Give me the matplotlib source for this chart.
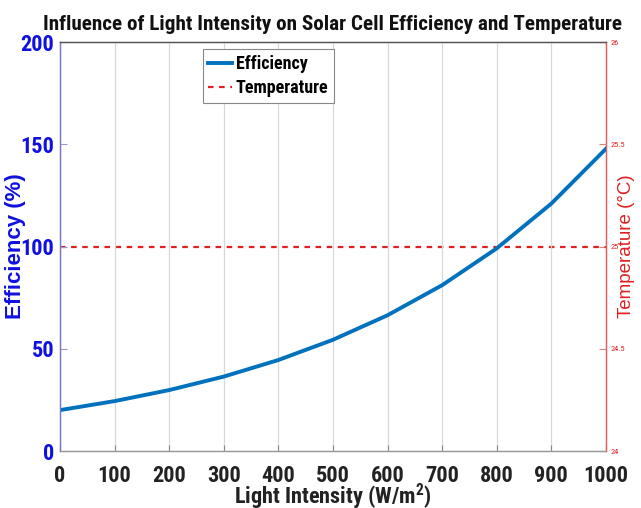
import matplotlib
matplotlib.use("Agg")
import matplotlib.pyplot as plt
import numpy as np

intensity = [0, 100, 200, 300, 400, 500, 600, 700, 800, 900, 1000]
efficiency = [20.0, 24.4, 29.8, 36.4, 44.5, 54.4, 66.4, 81.1, 99.1, 121.0, 147.8]
temperature = [25, 25, 25, 25, 25, 25, 25, 25, 25, 25, 25]
x_ticks = [0, 100, 200, 300, 400, 500, 600, 700, 800, 900, 1000]
left_ticks = [0, 50, 100, 150, 200]
right_ticks = [24, 24.5, 25, 25.5, 26]

narrow = ["Roboto Condensed", "DejaVu Sans"]
arial = ["Liberation Sans", "DejaVu Sans"]

plt.rcParams["mathtext.fontset"] = "custom"
plt.rcParams["mathtext.rm"] = "Roboto Condensed:bold"
plt.rcParams["mathtext.it"] = "Roboto Condensed:bold"
plt.rcParams["mathtext.bf"] = "Roboto Condensed:bold"

fig = plt.figure(figsize=(6.41, 5.08), dpi=100)
ax = fig.add_axes([0.0936, 0.1122, 0.8517, 0.805])
ax2 = ax.twinx()

blue_line = (0.0, 0.447, 0.741)
tick_blue = "#1010e0"
red = "#e02020"

l1, = ax.plot(intensity, efficiency, color=blue_line, lw=2.8, label="Efficiency")
l2, = ax2.plot(intensity, temperature, color=red, lw=1.6, ls=(0, (2.5, 2.5)), label="Temperature")

ax.set_xlim(0, 1000)
ax.set_ylim(0, 200)
ax2.set_ylim(24, 26)
ax.set_xticks(x_ticks)
ax.set_yticks(left_ticks)
ax2.set_yticks(right_ticks)
ax2.set_yticklabels(["24", "24.5", "25", "25.5", "26"])

ax.xaxis.grid(True, color="#d8d8d8", lw=0.9)
ax.set_axisbelow(True)

for lbl in ax.get_xticklabels():
    lbl.set_fontfamily(narrow)
    lbl.set_fontweight("bold")
    lbl.set_fontsize(16)
    lbl.set_color("#222222")
for lbl in ax.get_yticklabels():
    lbl.set_fontfamily(narrow)
    lbl.set_fontweight("bold")
    lbl.set_fontsize(16)
    lbl.set_color(tick_blue)
for lbl in ax2.get_yticklabels():
    lbl.set_fontfamily(narrow)
    lbl.set_fontsize(6)
    lbl.set_color(red)

ax.tick_params(axis="x", direction="in", length=4, color="#888888", pad=10)
ax.tick_params(axis="y", direction="in", length=5, color="#9999cc", pad=4)
ax2.tick_params(axis="y", direction="in", length=5, color="#e08080", pad=3)

for a in (ax, ax2):
    a.spines["top"].set_color("#555555")
    a.spines["bottom"].set_color("#999999")
    a.spines["left"].set_color("#7777cc")
    a.spines["right"].set_color("#e06060")
    for s in a.spines.values():
        s.set_linewidth(0.9)

ax.set_xlabel("Light Intensity (W/m$^2$)", fontfamily=narrow, fontweight="bold",
              fontsize=16, color="#222222", labelpad=-4)
ax.set_ylabel("Efficiency (%)", fontfamily=arial, fontweight="bold", fontsize=16,
              color=tick_blue)
ax.yaxis.set_label_coords(-0.063, 0.5)
ax2.set_ylabel("Temperature (°C)", fontfamily=arial, fontsize=13.5, color=red)
ax2.yaxis.set_label_coords(1.022, 0.5)
ax.set_title("Influence of Light Intensity on Solar Cell Efficiency and Temperature",
             fontfamily=narrow, fontweight="bold", fontsize=15.2, color="#111111", pad=9)

leg = ax.legend(handles=[l1, l2], loc="upper left", bbox_to_anchor=(0.262, 0.982),
                prop={"family": narrow, "weight": "bold", "size": 13},
                frameon=True, fancybox=False, edgecolor="#888888", framealpha=1,
                handlelength=1.3, handletextpad=0.2, borderpad=0.3, labelspacing=0.35,
                borderaxespad=0)
leg.get_frame().set_linewidth(0.8)
leg.set_zorder(10)
ax2.set_zorder(ax.get_zorder() - 1)
ax.patch.set_visible(False)

fig.savefig("out.png", dpi=100)
